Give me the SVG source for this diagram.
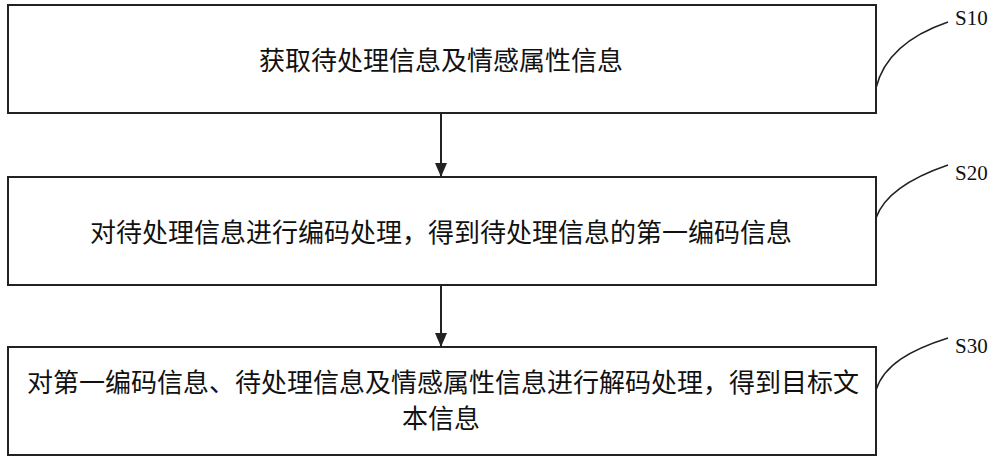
<svg xmlns="http://www.w3.org/2000/svg" width="1000" height="463" viewBox="0 0 1000 463">
<style>
.b{fill:#fff;stroke:#222;stroke-width:2}
.t{font-family:"Noto Sans CJK SC",sans-serif;font-size:26px;fill:#111;text-anchor:middle}
.l{font-family:"Liberation Serif",serif;font-size:21px;fill:#111}
.c{fill:none;stroke:#222;stroke-width:1.5}
</style>
<defs><marker id="a" markerWidth="14" markerHeight="12" refX="14" refY="6" orient="auto" markerUnits="userSpaceOnUse"><path d="M0,0 L14,6 L0,12 Z" fill="#222"/></marker></defs>
<rect width="1000" height="463" fill="#fff"/>
<g id="n1"><rect class="b" x="8" y="5" width="868" height="108"/><text class="t" x="441" y="70">获取待处理信息及情感属性信息</text></g>
<g id="n2"><rect class="b" x="8" y="177" width="868" height="108"/><text class="t" x="441" y="242">对待处理信息进行编码处理，得到待处理信息的第一编码信息</text></g>
<g id="n3"><rect class="b" x="8" y="347" width="868" height="108"/><text class="t" x="443" y="392">对第一编码信息、待处理信息及情感属性信息进行解码处理，得到目标文</text><text class="t" x="441" y="428">本信息</text></g>
<g id="connectors">
<line x1="441" y1="113" x2="441" y2="177" stroke="#222" stroke-width="2" marker-end="url(#a)"/>
<line x1="441" y1="285" x2="441" y2="347" stroke="#222" stroke-width="2" marker-end="url(#a)"/>
<path class="c" d="M876,88 C884,55 910,35 948,22"/>
<path class="c" d="M876,218 C884,195 910,178 948,165"/>
<path class="c" d="M876,390 C884,365 910,350 948,338"/>
</g>
<g id="labels"><text class="l" x="955" y="25">S10</text><text class="l" x="955" y="180">S20</text><text class="l" x="955" y="353">S30</text></g>
</svg>
